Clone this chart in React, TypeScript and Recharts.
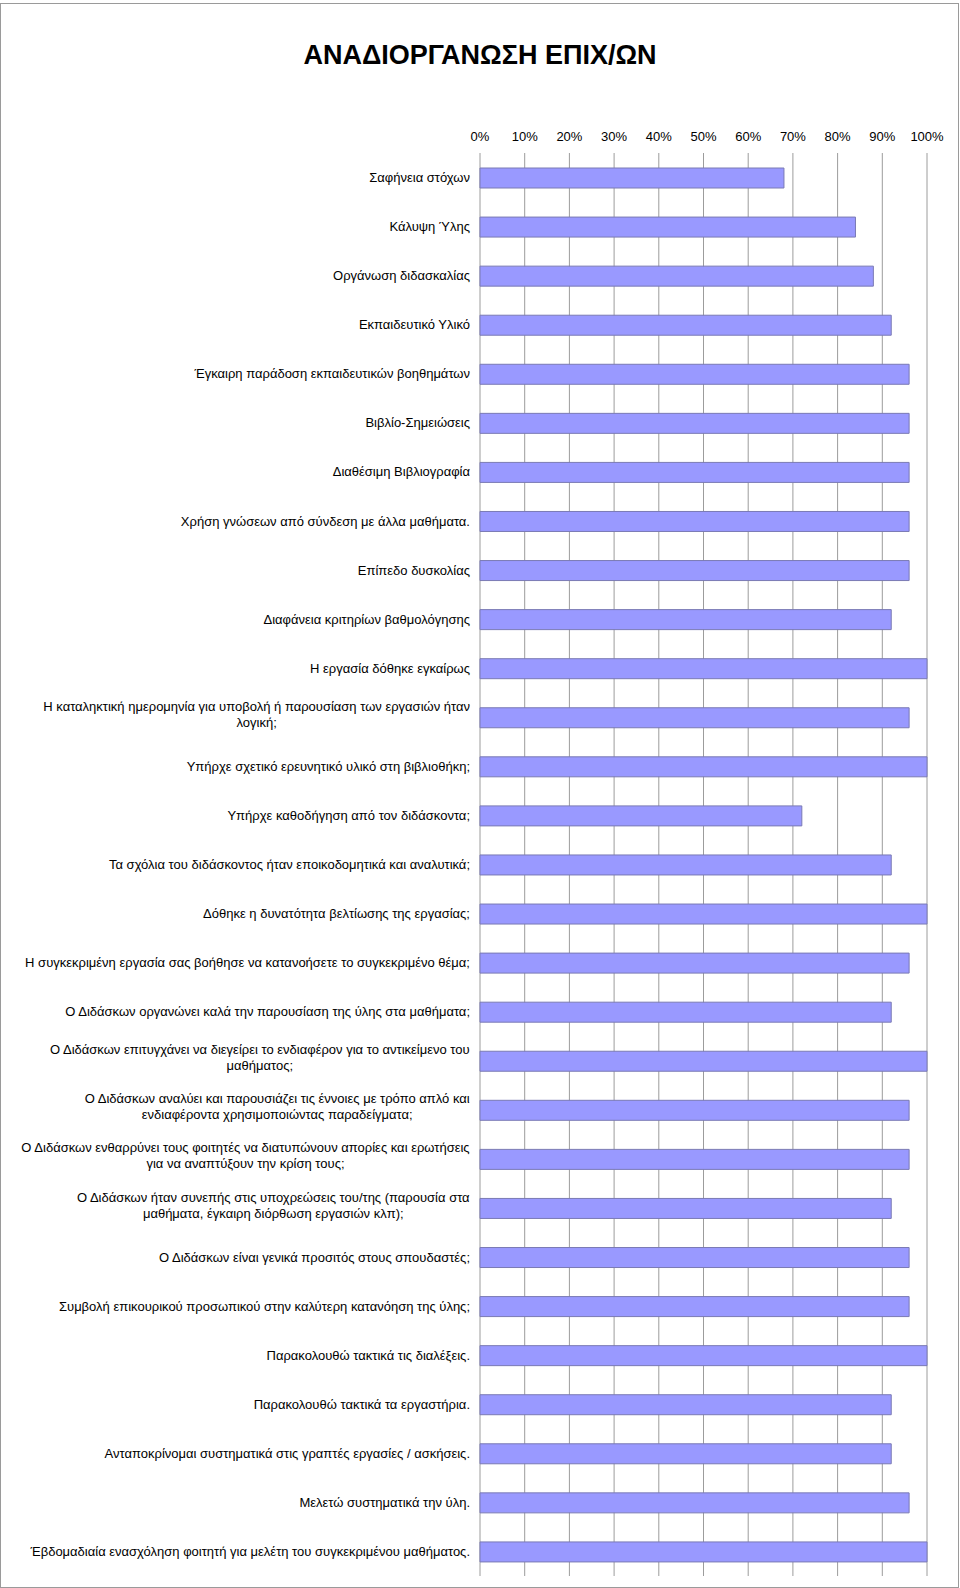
import { Bar, BarChart, CartesianGrid, XAxis, YAxis } from 'recharts';

const categories = [
  'Σαφήνεια στόχων',
  'Κάλυψη Ύλης',
  'Οργάνωση διδασκαλίας',
  'Εκπαιδευτικό Υλικό',
  'Έγκαιρη παράδοση εκπαιδευτικών βοηθημάτων',
  'Βιβλίο-Σημειώσεις',
  'Διαθέσιμη Βιβλιογραφία',
  'Χρήση γνώσεων από σύνδεση με άλλα μαθήματα.',
  'Επίπεδο δυσκολίας',
  'Διαφάνεια κριτηρίων βαθμολόγησης',
  'Η εργασία δόθηκε εγκαίρως',
  'Η καταληκτική ημερομηνία για υποβολή ή παρουσίαση των εργασιών ήταν\nλογική;',
  'Υπήρχε σχετικό ερευνητικό υλικό στη βιβλιοθήκη;',
  'Υπήρχε καθοδήγηση από τον διδάσκοντα;',
  'Τα σχόλια του διδάσκοντος ήταν εποικοδομητικά και αναλυτικά;',
  'Δόθηκε η δυνατότητα βελτίωσης της εργασίας;',
  'Η συγκεκριμένη εργασία σας βοήθησε να κατανοήσετε το συγκεκριμένο θέμα;',
  'Ο Διδάσκων οργανώνει καλά την παρουσίαση της ύλης στα μαθήματα;',
  'Ο Διδάσκων επιτυγχάνει να διεγείρει το ενδιαφέρον για το αντικείμενο του\nμαθήματος;',
  'Ο Διδάσκων αναλύει και παρουσιάζει τις έννοιες με τρόπο απλό και\nενδιαφέροντα χρησιμοποιώντας παραδείγματα;',
  'Ο Διδάσκων ενθαρρύνει τους φοιτητές να διατυπώνουν απορίες και ερωτήσεις\nγια να αναπτύξουν την κρίση τους;',
  'Ο Διδάσκων ήταν συνεπής στις υποχρεώσεις του/της (παρουσία στα\nμαθήματα, έγκαιρη διόρθωση εργασιών κλπ);',
  'Ο Διδάσκων είναι γενικά προσιτός στους σπουδαστές;',
  'Συμβολή επικουρικού προσωπικού στην καλύτερη κατανόηση της ύλης;',
  'Παρακολουθώ τακτικά τις διαλέξεις.',
  'Παρακολουθώ τακτικά τα εργαστήρια.',
  'Ανταποκρίνομαι συστηματικά στις γραπτές εργασίες / ασκήσεις.',
  'Μελετώ συστηματικά την ύλη.',
  'Έβδομαδιαία ενασχόληση φοιτητή για μελέτη του συγκεκριμένου μαθήματος.',
];

// percent of positive answers per item
const values = [
  68, 84, 88, 92, 96, 96, 96, 96, 96, 92, 100, 96, 100, 72, 92, 100, 96, 92, 100, 96, 96, 92, 96,
  96, 100, 92, 92, 96, 100,
];

const percentTicks = [0, 10, 20, 30, 40, 50, 60, 70, 80, 90, 100];

const FONT = "'Liberation Sans', Arial, sans-serif";
const LABEL_SIZE = 13;
const LINE_HEIGHT = 16;
const PLOT_LEFT = 480;

const chartData = categories.map((name, i) => ({ name, value: values[i] }));

let measureCtx: CanvasRenderingContext2D | null = null;
function textWidth(s: string): number {
  if (!measureCtx) {
    measureCtx = document.createElement('canvas').getContext('2d');
  }
  if (!measureCtx) return s.length * 6.5;
  measureCtx.font = `${LABEL_SIZE}px ${FONT}`;
  return measureCtx.measureText(s).width;
}

function CategoryTick(props: any) {
  const { y, payload } = props;
  const x = PLOT_LEFT - 10;
  const lines: string[] = String(payload.value).split('\n');
  if (lines.length === 1) {
    return (
      <text x={x} y={y} dy="0.35em" textAnchor="end" fontSize={LABEL_SIZE} fontFamily={FONT} fill="#000">
        {lines[0]}
      </text>
    );
  }
  // multi-line labels: block right-aligned, lines centred inside it
  const maxW = Math.max(...lines.map(textWidth));
  const cx = x - maxW / 2;
  const top = y - 3 - ((lines.length - 1) * LINE_HEIGHT) / 2;
  return (
    <text textAnchor="middle" fontSize={LABEL_SIZE} fontFamily={FONT} fill="#000">
      {lines.map((line, i) => (
        <tspan key={i} x={cx} y={top + i * LINE_HEIGHT} dy="0.35em">
          {line}
        </tspan>
      ))}
    </text>
  );
}

export default function App() {
  return (
    <div
      style={{
        position: 'absolute',
        left: 0,
        top: 0,
        width: 960,
        height: 1588,
        background: '#fff',
        fontFamily: FONT,
      }}
    >
      <div
        style={{
          position: 'absolute',
          left: 0,
          top: 3,
          width: 957,
          height: 1583,
          border: '1px solid #9a9a9a',
        }}
      />
      <div
        style={{
          position: 'absolute',
          left: 0,
          top: 40,
          width: 960,
          textAlign: 'center',
          fontSize: 27,
          fontWeight: 'bold',
          lineHeight: '30px',
        }}
      >
        ΑΝΑΔΙΟΡΓΑΝΩΣΗ ΕΠΙΧ/ΩΝ
      </div>
      <div style={{ position: 'absolute', left: 0, top: 0 }}>
        <BarChart
          width={960}
          height={1588}
          data={chartData}
          layout="vertical"
          margin={{ top: 123, right: 33, bottom: 12, left: 0 }}
          barCategoryGap={0}
        >
          <CartesianGrid horizontal={false} stroke="#9c9c9c" />
          <XAxis
            type="number"
            orientation="top"
            domain={[0, 100]}
            ticks={percentTicks}
            height={30}
            tickFormatter={(v) => `${v}%`}
            axisLine={false}
            tickLine={false}
            tickSize={0}
            tickMargin={12}
            interval={0}
            tick={{ fontSize: 13, fill: '#000', fontFamily: FONT }}
          />
          <YAxis
            type="category"
            dataKey="name"
            width={PLOT_LEFT}
            axisLine={false}
            tickLine={false}
            tickSize={0}
            tickMargin={9}
            interval={0}
            tick={<CategoryTick />}
          />
          <Bar
            dataKey="value"
            barSize={20}
            fill="#9999ff"
            stroke="#7a7ab4"
            strokeWidth={1}
            isAnimationActive={false}
          />
        </BarChart>
      </div>
    </div>
  );
}
